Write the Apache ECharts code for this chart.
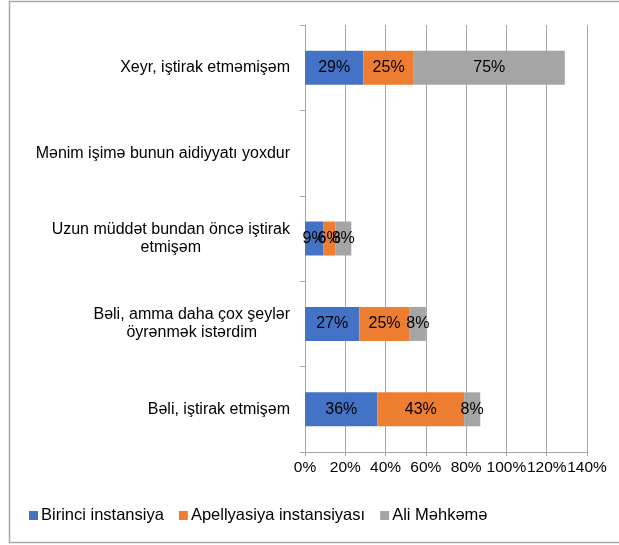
<!DOCTYPE html>
<html>
<head>
<meta charset="utf-8">
<script src="https://cdn.jsdelivr.net/npm/echarts@6/dist/echarts.min.js"></script>
<style>
  html, body { margin: 0; padding: 0; background: #fff; }
  #chart { width: 619px; height: 545px; }
</style>
</head>
<body>
<div id="chart"></div>
<script>
// categories listed top to bottom (axis is inverted)
var categories = [
  "Xeyr, iştirak etməmişəm",
  "Mənim işimə bunun aidiyyatı yoxdur",
  "Uzun müddət bundan öncə iştirak\netmişəm",
  "Bəli, amma daha çox şeylər\nöyrənmək istərdim",
  "Bəli, iştirak etmişəm"
];
var seriesNames = ["Birinci instansiya", "Apellyasiya instansiyası", "Ali Məhkəmə"];
var birinci = [29, null, 9, 27, 36];
var apellyasiya = [25, null, 6, 25, 43];
var aliMehkeme = [75, null, 8, 8, 8];
var xTicks = [0, 20, 40, 60, 80, 100, 120, 140];

var colors = ["#4472C4", "#ED7D31", "#A5A5A5"];
var font = "Liberation Sans, Arial, sans-serif";

var chart = echarts.init(document.getElementById("chart"));

function makeSeries(name, data, i) {
  return {
    name: name,
    type: "bar",
    stack: "total",
    barWidth: 34,
    data: data,
    itemStyle: { color: colors[i] },
    label: {
      show: true,
      position: "inside",
      color: "#000",
      fontSize: 16,
      fontFamily: font,
      formatter: function(p) {
        return p.value == null ? "" : p.value + "%";
      }
    },
    emphasis: { disabled: true }
  };
}

chart.setOption({
  animation: false,
  graphic: [
    {
      type: "rect",
      shape: { x: 9.5, y: 1.5, width: 640, height: 541 },
      style: { fill: "none", stroke: "#a6a6a6", lineWidth: 1.5 },
      silent: true
    }
  ],
  grid: {
    left: 305,
    right: 32,
    top: 25,
    bottom: 93
  },
  legend: {
    data: seriesNames,
    left: 24,
    top: 502,
    itemWidth: 9,
    itemHeight: 9,
    itemGap: 15,
    icon: "rect",
    textStyle: { fontSize: 16.5, color: "#000", fontFamily: font, padding: [0, 0, 0, -2] }
  },
  xAxis: {
    type: "value",
    min: xTicks[0],
    max: xTicks[xTicks.length - 1],
    interval: 20,
    axisLine: { show: true, lineStyle: { color: "#a6a6a6", width: 1 } },
    axisTick: { show: true, length: 4, lineStyle: { color: "#a6a6a6" } },
    splitLine: { show: true, lineStyle: { color: "#a6a6a6", width: 1 } },
    axisLabel: {
      formatter: "{value}%",
      fontSize: 15.5,
      color: "#000",
      fontFamily: font,
      margin: 8,
      hideOverlap: false,
      showMinLabel: true,
      showMaxLabel: true
    }
  },
  yAxis: {
    type: "category",
    inverse: true,
    data: categories,
    axisLine: { show: true, lineStyle: { color: "#a6a6a6", width: 1 } },
    axisTick: { show: true, length: 5, lineStyle: { color: "#a6a6a6" } },
    axisLabel: {
      margin: 15,
      fontSize: 16,
      color: "#000",
      fontFamily: font,
      lineHeight: 18,
      formatter: function(v) {
        return v.split("\n").map(function(l) { return "{c|" + l + "}"; }).join("\n");
      },
      rich: {
        c: { align: "center", fontSize: 16, lineHeight: 18, color: "#000", fontFamily: font }
      }
    }
  },
  series: [
    makeSeries(seriesNames[0], birinci, 0),
    makeSeries(seriesNames[1], apellyasiya, 1),
    makeSeries(seriesNames[2], aliMehkeme, 2)
  ]
});
</script>
</body>
</html>
